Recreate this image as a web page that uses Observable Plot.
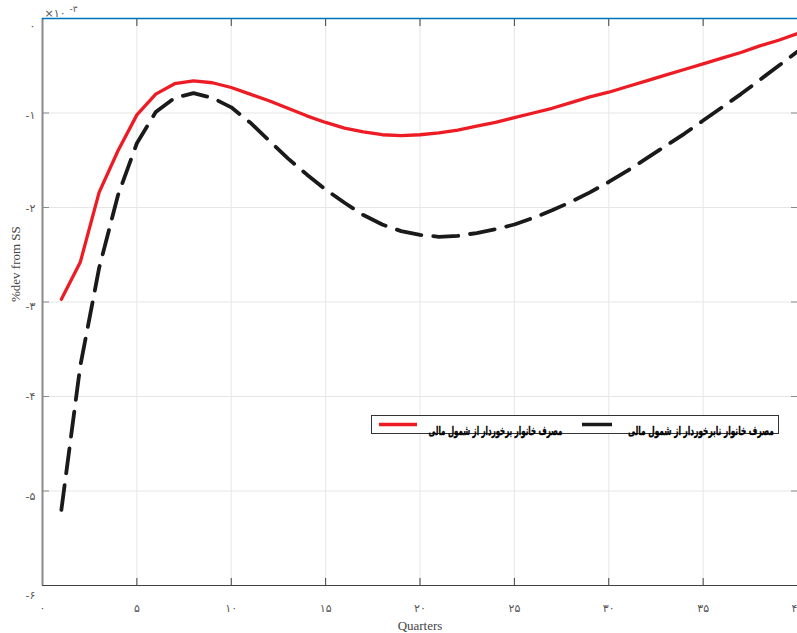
<!DOCTYPE html>
<html>
<head>
<meta charset="utf-8">
<script src="https://cdn.jsdelivr.net/npm/d3@7"></script>
<script src="https://cdn.jsdelivr.net/npm/@observablehq/plot@0.6"></script>
<style>
  html, body { margin: 0; padding: 0; background: #fff; overflow: hidden; }
  #wrap { position: relative; width: 797px; height: 633px; }
  #legend { position: absolute; left: 0; top: 0; pointer-events: none; }
</style>
</head>
<body>
<div id="wrap"></div>
<script>
// ---- data ----
const quarters = [1,2,3,4,5,6,7,8,9,10,11,12,13,14,15,16,17,18,19,20,21,22,23,24,25,26,27,28,29,30,31,32,33,34,35,36,37,38,39,40];
const withInclusion = [-2.97,-2.58,-1.84,-1.40,-1.02,-0.80,-0.69,-0.66,-0.68,-0.73,-0.80,-0.87,-0.95,-1.03,-1.10,-1.16,-1.20,-1.23,-1.24,-1.23,-1.21,-1.18,-1.14,-1.10,-1.05,-1.00,-0.95,-0.89,-0.83,-0.78,-0.72,-0.66,-0.60,-0.54,-0.48,-0.42,-0.36,-0.29,-0.23,-0.16];
const withoutInclusion = [-5.20,-3.68,-2.64,-1.87,-1.32,-0.99,-0.84,-0.79,-0.84,-0.94,-1.10,-1.29,-1.48,-1.65,-1.81,-1.95,-2.08,-2.18,-2.25,-2.29,-2.31,-2.30,-2.27,-2.23,-2.18,-2.11,-2.03,-1.94,-1.84,-1.73,-1.61,-1.48,-1.35,-1.22,-1.08,-0.94,-0.80,-0.65,-0.50,-0.35];
const seriesNames = ["مصرف خانوار برخوردار از شمول مالی", "مصرف خانوار نابرخوردار از شمول مالی"];
const seriesColors = ["#ed1c24", "#1a1a1a"];
const xTicks = [0,5,10,15,20,25,30,35,40];
const xTickLabels = ["۰","۵","۱۰","۱۵","۲۰","۲۵","۳۰","۳۵","۴۰"];
const yTicks = [0,-1,-2,-3,-4,-5,-6];
const yTickLabels = ["۰","-۱","-۲","-۳","-۴","-۵","-۶"];
const exponentBase = "×۱۰";
const exponentPower = "-۳";
const xLabel = "Quarters";
const yLabel = "%dev from SS";

// style only: vertical nudges of the y tick labels (as placed in the original)
const yLabelNudge = [8, 2, 1, 4, 0, 5, 10];

const rowsA = quarters.map((q, i) => ({q, v: withInclusion[i]}));
const rowsB = quarters.map((q, i) => ({q, v: withoutInclusion[i]}));

const tickFont = "DejaVu Sans, sans-serif";
const serif = "Liberation Serif, Times New Roman, serif";

const yLabelMarks = yTicks.map((t, i) =>
  Plot.text([t], {y: d => d, frameAnchor: "left", dx: -7, dy: yLabelNudge[i], textAnchor: "end", lineAnchor: "middle",
    text: () => yTickLabels[i], fill: "#555", fontSize: 11, fontFamily: tickFont})
);

const chart = Plot.plot({
  width: 797,
  height: 633,
  marginLeft: 42,
  marginRight: 0,
  marginTop: 18,
  marginBottom: 48,
  style: {background: "#fff", overflow: "hidden"},
  x: {domain: [0, 40]},
  y: {domain: [-6, 0]},
  marks: [
    Plot.gridX(xTicks, {stroke: "#e6e6e6", strokeOpacity: 1}),
    Plot.gridY(yTicks, {stroke: "#e6e6e6", strokeOpacity: 1}),
    Plot.axisX({anchor: "bottom", ticks: xTicks, tickSize: -7, tickFormat: () => "", label: null, stroke: "#404040"}),
    Plot.axisX({anchor: "top", ticks: xTicks, tickSize: -7, tickFormat: () => "", label: null, stroke: "#404040"}),
    Plot.axisY({anchor: "left", ticks: yTicks, tickSize: -7, tickFormat: () => "", label: null, stroke: "#8a8a8a"}),
    Plot.axisY({anchor: "right", ticks: yTicks, tickSize: -7, tickFormat: () => "", label: null, stroke: "#8a8a8a"}),
    Plot.ruleY([-6], {stroke: "#404040", strokeWidth: 1.2}),
    Plot.ruleX([0], {stroke: "#8a8a8a", strokeWidth: 2}),
    Plot.ruleY([0], {stroke: "#0072bd", strokeWidth: 1.4}),
    Plot.text(xTicks, {x: d => d, frameAnchor: "bottom", dy: 23, lineAnchor: "middle", text: (d, i) => xTickLabels[i], fill: "#555", fontSize: 11, fontFamily: tickFont}),
    ...yLabelMarks,
    Plot.text([exponentBase], {frameAnchor: "top-left", dx: 2, dy: -5, lineAnchor: "middle", textAnchor: "start", text: d => d, fill: "#555", fontSize: 11, fontFamily: tickFont}),
    Plot.text([exponentPower], {frameAnchor: "top-left", dx: 27, dy: -9, lineAnchor: "middle", textAnchor: "start", text: d => d, fill: "#555", fontSize: 9, fontFamily: tickFont}),
    Plot.text([xLabel], {frameAnchor: "bottom", dy: 40, lineAnchor: "middle", text: d => d, fill: "#444", fontSize: 13, fontFamily: serif}),
    Plot.text([yLabel], {frameAnchor: "left", dx: -27, rotate: -90, text: d => d, fill: "#444", fontSize: 13, fontFamily: serif}),
    Plot.line(rowsA, {x: "q", y: "v", stroke: seriesColors[0], strokeWidth: 3.3, strokeLinejoin: "round"}),
    Plot.line(rowsB, {x: "q", y: "v", stroke: seriesColors[1], strokeWidth: 3.8, strokeDasharray: "25,12", strokeLinejoin: "round"})
  ]
});

const wrap = document.getElementById("wrap");
wrap.appendChild(chart);

// legend overlay
const lg = d3.select(wrap).append("svg")
  .attr("id", "legend")
  .attr("width", 797).attr("height", 633);
lg.append("rect")
  .attr("x", 371.5).attr("y", 415.5).attr("width", 407).attr("height", 18)
  .attr("fill", "#fff").attr("stroke", "#333").attr("stroke-width", 1);
const items = [
  {x1: 379, x2: 417, tx: 495.5, tw: 134},
  {x1: 582, x2: 612, tx: 701, tw: 146}
];
items.forEach((it, i) => {
  lg.append("line")
    .attr("x1", it.x1).attr("x2", it.x2).attr("y1", 424.5).attr("y2", 424.5)
    .attr("stroke", seriesColors[i]).attr("stroke-width", 3.5);
  const t = lg.append("text")
    .attr("x", 0).attr("y", 0)
    .attr("text-anchor", "middle")
    .attr("font-family", tickFont)
    .attr("font-weight", "bold")
    .attr("font-size", 12.5)
    .attr("fill", "#000")
    .attr("stroke", "#000")
    .attr("stroke-width", 0.35)
    .text(seriesNames[i]);
  const w = t.node().getComputedTextLength() || it.tw;
  const sx = it.tw / w;
  t.attr("transform", `translate(${it.tx},435) scale(${sx},1)`);
});
</script>
</body>
</html>
